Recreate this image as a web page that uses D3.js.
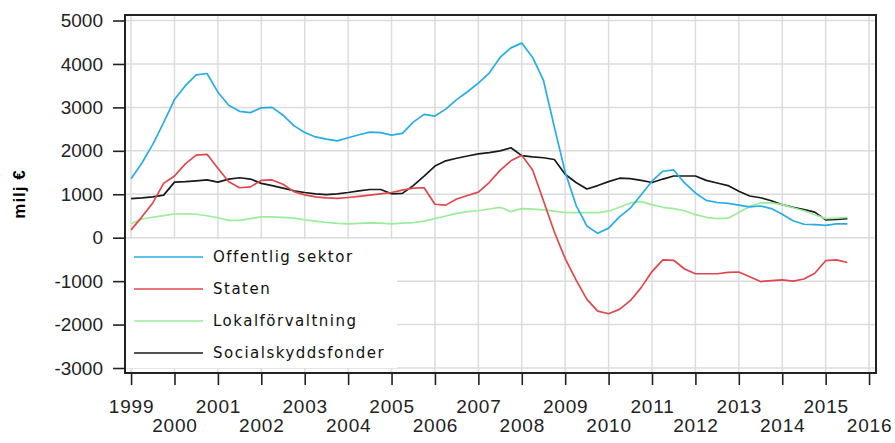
<!DOCTYPE html>
<html>
<head>
<meta charset="utf-8">
<script src="https://cdn.jsdelivr.net/npm/d3@7"></script>
<style>
  body { margin: 0; background: #fff; }
  svg { display: block; }
</style>
</head>
<body>
<div id="chart"></div>
<script>
// quarterly values, 1999Q1 .. 2015Q3 (milj €)
const startYear = 1999;
const seriesNames = ["Offentlig sektor", "Staten", "Lokalförvaltning", "Socialskyddsfonder"];
const seriesColors = ["#27ade4", "#e0474c", "#9aee9a", "#1a1a1a"];

const offentlig = [1357, 1720, 2150, 2650, 3180, 3500, 3750, 3780, 3350, 3050, 2910, 2880,
  2990, 3000, 2820, 2580, 2420, 2320, 2270, 2230, 2300, 2370, 2430, 2420,
  2360, 2400, 2660, 2840, 2800, 2960, 3180, 3360, 3560, 3790, 4150, 4370,
  4480, 4150, 3620, 2550, 1510, 745, 270, 100, 220, 480, 680, 990,
  1300, 1530, 1560, 1260, 1030, 860, 810, 790, 750, 710, 730, 670,
  540, 390, 310, 300, 285, 320, 320];

const staten = [180, 480, 800, 1250, 1420, 1700, 1900, 1920, 1600, 1290, 1150, 1170,
  1320, 1330, 1230, 1060, 985, 940, 915, 905, 925, 950, 980, 1010,
  1040, 1095, 1140, 1150, 770, 750, 890, 970, 1050, 1270, 1550, 1770,
  1900, 1560, 850, 130, -480, -970, -1420, -1690, -1750, -1650, -1450, -1150,
  -780, -510, -520, -720, -830, -830, -830, -800, -790, -900, -1010, -990,
  -970, -1000, -950, -820, -530, -510, -570];

const lokal = [320, 430, 470, 510, 545, 550, 540, 505, 460, 400, 400, 440,
  480, 480, 470, 450, 410, 380, 350, 330, 320, 330, 340, 335,
  320, 335, 345, 380, 440, 500, 560, 600, 620, 660, 700, 600,
  670, 660, 640, 610, 580, 575, 575, 575, 610, 700, 800, 830,
  760, 700, 670, 620, 530, 470, 440, 450, 580, 720, 800, 800,
  760, 690, 620, 530, 440, 450, 470];

const social = [900, 915, 940, 980, 1280, 1290, 1310, 1330, 1280, 1350, 1380, 1350,
  1250, 1200, 1140, 1080, 1040, 1010, 990, 1010, 1040, 1080, 1110, 1110,
  1010, 1020, 1200, 1420, 1650, 1770, 1830, 1880, 1930, 1960, 2000, 2070,
  1890, 1860, 1840, 1800, 1460, 1270, 1120, 1200, 1290, 1370, 1360, 1320,
  1270, 1350, 1420, 1420, 1420, 1320, 1260, 1200, 1070, 960, 920, 850,
  760, 700, 650, 590, 410, 420, 440];

const allSeries = [offentlig, staten, lokal, social];
const yTicks = [-3000, -2000, -1000, 0, 1000, 2000, 3000, 4000, 5000];
const xTicks = d3.range(1999, 2017);

const W = 895, H = 443;
const plot = { left: 125, right: 876, top: 15, bottom: 373 };

const svg = d3.select("#chart").append("svg")
  .attr("width", W)
  .attr("height", H);

const x = d3.scaleLinear()
  .domain([1998.86, 2016.16])
  .range([plot.left, plot.right]);

const y = d3.scaleLinear()
  .domain([-3115, 5127])
  .range([plot.bottom, plot.top]);

// grid
svg.append("g").selectAll("line")
  .data(yTicks)
  .join("line")
  .attr("x1", plot.left).attr("x2", plot.right)
  .attr("y1", d => y(d)).attr("y2", d => y(d))
  .attr("stroke", "#dcdcdc").attr("stroke-width", 1.5);

svg.append("g").selectAll("line")
  .data(xTicks)
  .join("line")
  .attr("x1", d => x(d)).attr("x2", d => x(d))
  .attr("y1", plot.top).attr("y2", plot.bottom)
  .attr("stroke", "#dcdcdc").attr("stroke-width", 1.5);

// legend background covers grid
const legend = svg.append("g");
legend.append("rect")
  .attr("x", plot.left + 1).attr("y", y(0) + 1.5)
  .attr("width", 271).attr("height", y(-3000) - y(0) - 1.5)
  .attr("fill", "#fff");

// lines
const line = d3.line()
  .x((d, i) => x(startYear + i / 4))
  .y(d => y(d));

[3, 2, 1, 0].forEach(k => {
  svg.append("path")
    .datum(allSeries[k])
    .attr("fill", "none")
    .attr("stroke", seriesColors[k])
    .attr("stroke-width", 1.7)
    .attr("stroke-linejoin", "round")
    .attr("d", line);
});

// legend entries
seriesNames.forEach((name, i) => {
  const cy = 257 + i * 32;
  legend.append("line")
    .attr("x1", 134).attr("x2", 203)
    .attr("y1", cy).attr("y2", cy)
    .attr("stroke", seriesColors[i]).attr("stroke-width", 1.7);
  legend.append("text")
    .attr("x", 213).attr("y", cy + 5)
    .style("font-family", "'DejaVu Sans', sans-serif")
    .style("font-size", "15px")
    .style("letter-spacing", "1.5px")
    .style("fill", "#111")
    .text(name);
});

// frame
svg.append("rect")
  .attr("x", plot.left).attr("y", plot.top)
  .attr("width", plot.right - plot.left).attr("height", plot.bottom - plot.top)
  .attr("fill", "none").attr("stroke", "#222").attr("stroke-width", 2);

const fmt = d => String(d);

// y axis
const yAxis = svg.append("g")
  .attr("transform", `translate(${plot.left},0)`)
  .call(d3.axisLeft(y).tickValues(yTicks).tickSize(12).tickPadding(10).tickFormat(fmt));
yAxis.select(".domain").remove();
yAxis.selectAll("line").attr("stroke", "#222").attr("stroke-width", 1.6);
yAxis.selectAll("text")
  .style("font-family", "'Liberation Sans', Arial, sans-serif")
  .style("font-size", "19px")
  .style("fill", "#222");

// x axis, odd years on the first row and even years on the second
const xAxis = svg.append("g")
  .attr("transform", `translate(0,${plot.bottom})`)
  .call(d3.axisBottom(x).tickValues(xTicks).tickSize(12).tickPadding(15).tickFormat(fmt));
xAxis.select(".domain").remove();
xAxis.selectAll("line").attr("stroke", "#222").attr("stroke-width", 1.6);
xAxis.selectAll("text")
  .style("font-family", "'Liberation Sans', Arial, sans-serif")
  .style("font-size", "19px")
  .style("letter-spacing", "0.8px")
  .style("fill", "#222")
  .attr("dy", d => (d % 2 === 0 ? "1.71em" : "0.71em"));

// y label
svg.append("text")
  .attr("transform", `translate(25,${(plot.top + plot.bottom) / 2}) rotate(-90)`)
  .attr("text-anchor", "middle")
  .style("font-family", "'Liberation Sans', Arial, sans-serif")
  .style("font-size", "17px")
  .style("font-weight", "bold")
  .style("letter-spacing", "1px")
  .text("milj €");
</script>
</body>
</html>
